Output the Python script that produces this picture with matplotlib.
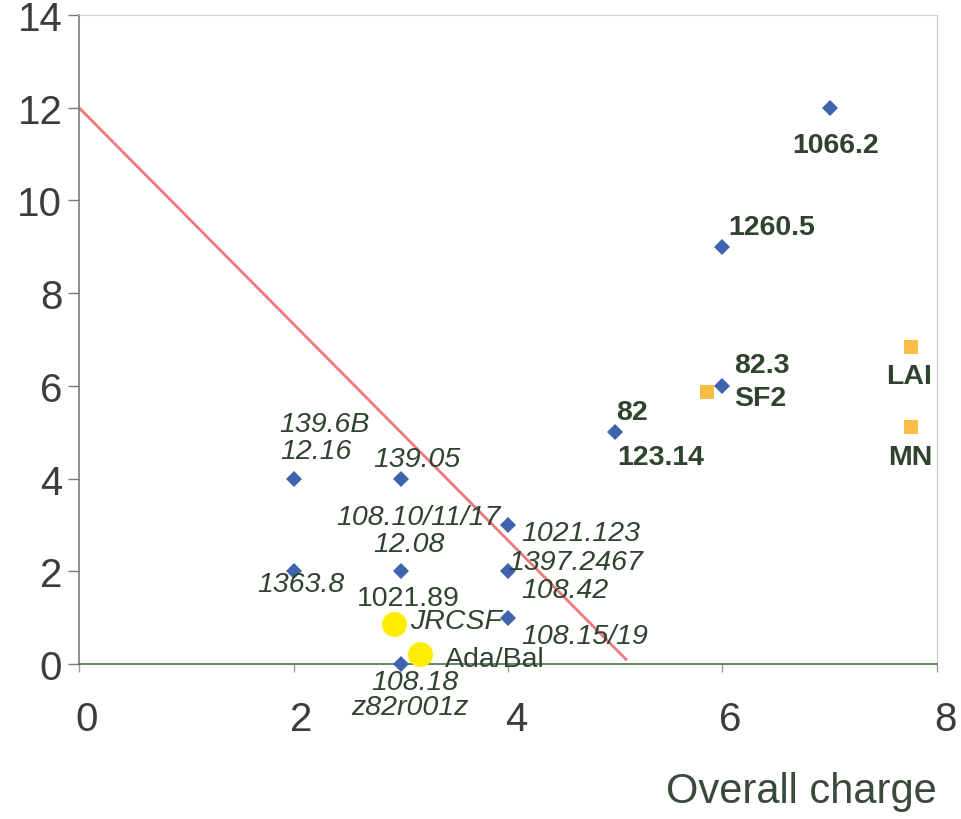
import matplotlib
matplotlib.use("Agg")
import matplotlib.pyplot as plt
from matplotlib.transforms import ScaledTranslation

plt.rcParams["font.family"] = ["Liberation Sans", "DejaVu Sans"]

# =========================
# DATA
# =========================
blue_x = [2, 2, 3, 3, 3, 4, 4, 4, 5, 6, 6, 7]
blue_y = [4, 2, 4, 2, 0, 3, 2, 1, 5, 9, 6, 12]
blue_labels = [
    ["139.6B", "12.16"], ["1363.8"], ["139.05"], ["12.08", "1021.89"],
    ["108.18", "z82r001z"], ["108.10/11/17", "1021.123"],
    ["1397.2467", "108.42"], ["108.15/19"], ["82", "123.14"],
    ["1260.5"], ["82.3"], ["1066.2"],
]

orange_x = [5.86, 7.76, 7.76]
orange_y = [5.87, 6.84, 5.11]
orange_labels = [["SF2"], ["LAI"], ["MN"]]

yellow_x = [2.94, 3.18]
yellow_y = [0.86, 0.22]
yellow_labels = [["JRCSF"], ["Ada/Bal"]]

line_x = [0, 5.1]
line_y = [12, 0.1]

x_ticks = [0, 2, 4, 6, 8]
y_ticks = [0, 2, 4, 6, 8, 10, 12, 14]

# label layout: offset in pixels (dx, dy), style, weight, alignment
LABEL_LAYOUT = {
    "139.6B": (31, 55, "italic", "normal", "center"),
    "12.16": (22, 28, "italic", "normal", "center"),
    "1363.8": (7, -13, "italic", "normal", "center"),
    "139.05": (16, 20, "italic", "normal", "center"),
    "12.08": (8, 27, "italic", "normal", "center"),
    "1021.89": (8, -27, "normal", "normal", "center"),
    "108.18": (14, -18, "italic", "normal", "center"),
    "z82r001z": (9, -43, "italic", "normal", "center"),
    "108.10/11/17": (-90, 8, "italic", "normal", "center"),
    "1021.123": (73, -8, "italic", "normal", "center"),
    "1397.2467": (68, 9, "italic", "normal", "center"),
    "108.42": (57, -19, "italic", "normal", "center"),
    "108.15/19": (77, -18, "italic", "normal", "center"),
    "82": (17, 20, "normal", "bold", "center"),
    "123.14": (45, -25, "normal", "bold", "center"),
    "1260.5": (49, 20, "normal", "bold", "center"),
    "82.3": (39, 21, "normal", "bold", "center"),
    "1066.2": (6, -37, "normal", "bold", "center"),
    "SF2": (53, -6, "normal", "bold", "center"),
    "LAI": (-2, -29, "normal", "bold", "center"),
    "MN": (-1, -30, "normal", "bold", "center"),
    "JRCSF": (16, 3, "italic", "normal", "left"),
    "Ada/Bal": (25, -5, "normal", "normal", "left"),
}

TEXT_COLOR = "#2f432f"

fig = plt.figure(figsize=(9.62, 8.2), dpi=100)
ax = fig.add_axes([79 / 962, 1 - 665 / 820, (937 - 79) / 962, (665 - 16) / 820])

ax.plot(line_x, line_y, color="#f07878", lw=2, zorder=2)
ax.plot(blue_x, blue_y, "D", color="#3f63ad", ms=8.5, mew=0, zorder=3, clip_on=False)
ax.plot(orange_x, orange_y, "s", color="#f9bf45", ms=10, mew=0, zorder=3, clip_on=False)
ax.plot(yellow_x, yellow_y, "o", color="#ffee00", ms=18, mew=0, zorder=3, clip_on=False)


def put_labels(xs, ys, labels):
    for x, y, texts in zip(xs, ys, labels):
        for t in texts:
            dx, dy, style, weight, ha = LABEL_LAYOUT[t]
            ax.annotate(t, (x, y), xytext=(dx, dy), textcoords="offset pixels",
                        ha=ha, va="center", fontsize=20.5, fontstyle=style,
                        fontweight=weight, color=TEXT_COLOR, zorder=4,
                        annotation_clip=False)


put_labels(blue_x, blue_y, blue_labels)
put_labels(orange_x, orange_y, orange_labels)
put_labels(yellow_x, yellow_y, yellow_labels)

ax.set_xlim(0, 8)
ax.set_ylim(0, 14)
ax.set_xticks(x_ticks)
ax.set_yticks(y_ticks)

ax.spines["left"].set_color("#7a7a7a")
ax.spines["left"].set_linewidth(1.2)
ax.spines["bottom"].set_color("#4c6e4c")
ax.spines["bottom"].set_linewidth(1.2)
ax.spines["top"].set_color("#d0d0c8")
ax.spines["right"].set_color("#c8c8c8")

ax.tick_params(axis="y", direction="out", length=8, width=1, color="#7a7a7a",
               pad=4, labelsize=29, labelcolor="#3c3c3c")
ax.tick_params(axis="x", direction="out", length=6, width=1, color="#9a9a9a",
               pad=20, labelsize=29, labelcolor="#3c3c3c")

# x tick labels sit a little to the right of their ticks in the original
shift = ScaledTranslation(8 / 100, 0, fig.dpi_scale_trans)
for lbl in ax.get_xticklabels():
    lbl.set_transform(lbl.get_transform() + shift)

fig.text(937 / 962, 1 - 792 / 820, "Overall charge", ha="right", va="center",
         fontsize=30, color="#3a4a3a")

fig.savefig("out.png", dpi=100)
